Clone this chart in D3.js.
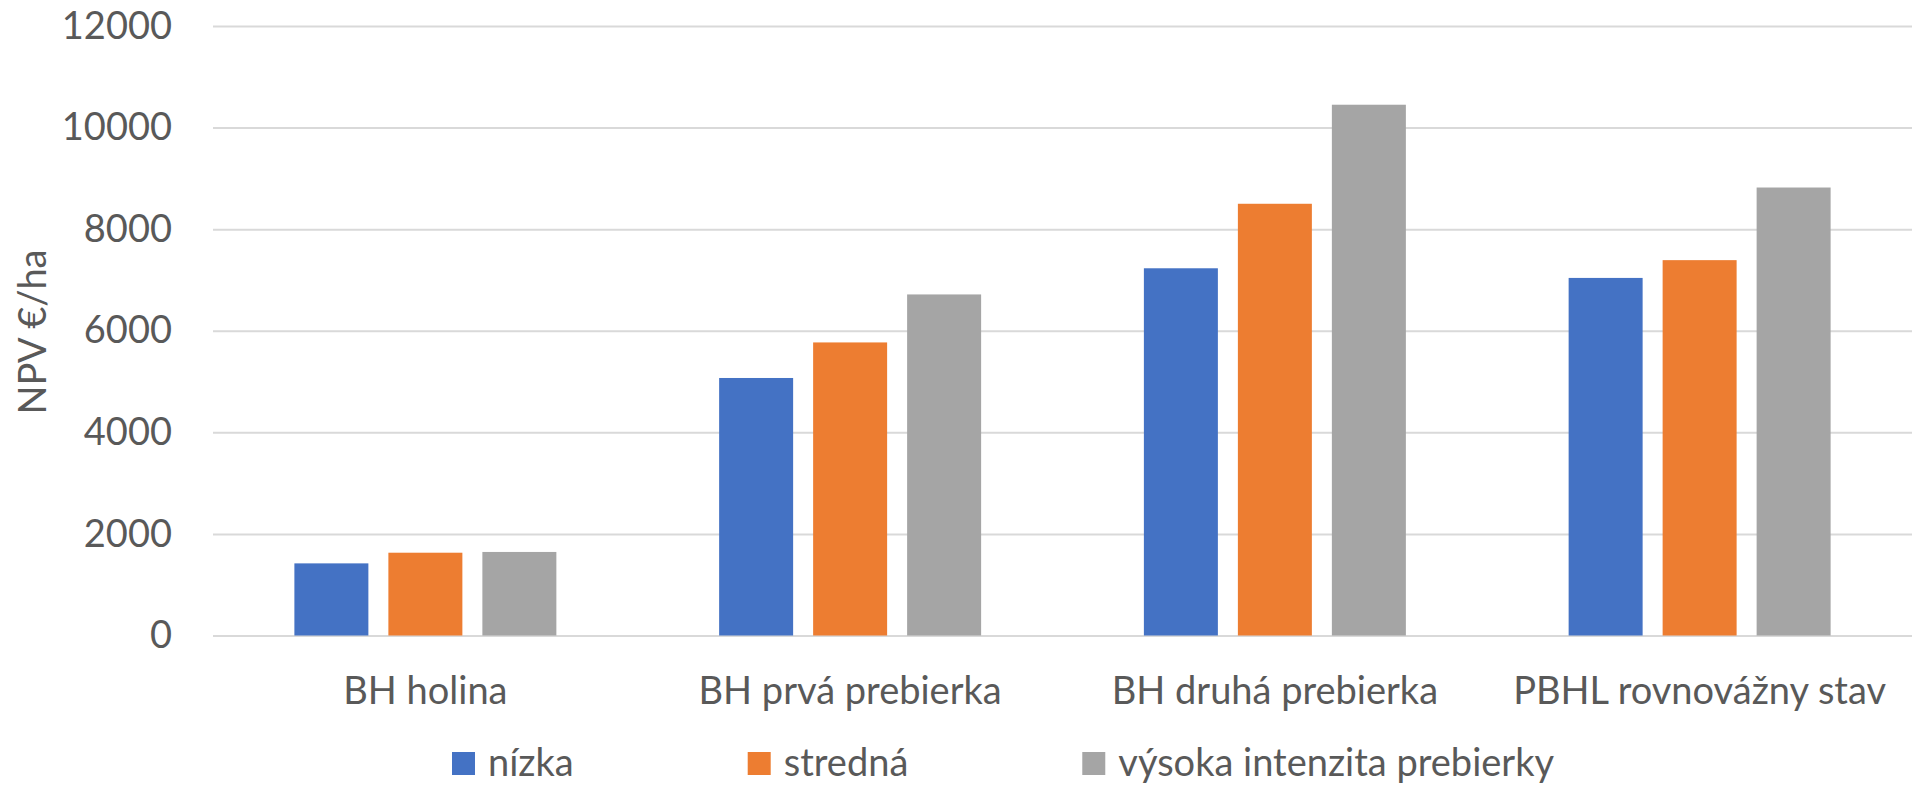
<!DOCTYPE html>
<html>
<head>
<meta charset="utf-8">
<script src="https://cdn.jsdelivr.net/npm/d3@7"></script>
<style>
  html, body { margin: 0; padding: 0; background: #fff; }
  svg text { font-family: "Lato", "Noto Sans", sans-serif; fill: #595959; }
</style>
</head>
<body>
<div id="viz"></div>
<script>

// categories and series
let categories = ["BH holina", "BH prvá prebierka", "BH druhá prebierka", "PBHL rovnovážny stav"];
let seriesNames = ["nízka", "stredná", "výsoka intenzita prebierky"];
let nizka = [1420, 5070, 7230, 7040];
let stredna = [1630, 5770, 8500, 7390];
let vysoka = [1645, 6715, 10450, 8820];
let yTicks = [0, 2000, 4000, 6000, 8000, 10000, 12000];
let colors = ["#4472C4", "#ED7D31", "#A5A5A5"];

let values = [nizka, stredna, vysoka];

//dimensions for the chart
let dimensions = {
    width: 1916,
    height: 785,
    margins: {
        top: 26,
        right: 4,
        bottom: 149.5,
        left: 213
    }
};

dimensions.boundedWidth = dimensions.width - dimensions.margins.left - dimensions.margins.right;
dimensions.boundedHeight = dimensions.height - dimensions.margins.top - dimensions.margins.bottom;

const fontSize = 38;

const viz = d3.select('#viz').append('svg')
    .attr('width', dimensions.width)
    .attr('height', dimensions.height);

const bounds = viz.append('g')
    .attr('transform', `translate(${dimensions.margins.left},${dimensions.margins.top})`);

//scales
const xScale = d3.scaleBand()
    .domain(categories)
    .range([0, dimensions.boundedWidth])
    .paddingInner(0.3832)
    .paddingOuter(0.3832 / 2);

const xInner = d3.scaleBand()
    .domain(seriesNames)
    .range([0, xScale.bandwidth()])
    .paddingInner(20 / 94);

const yScale = d3.scaleLinear()
    .domain([0, 12000])
    .range([dimensions.boundedHeight, 0]);

//y axis with gridlines
const yAxis = bounds.append('g')
    .call(d3.axisLeft(yScale)
        .tickValues(yTicks)
        .tickFormat(d3.format('d'))
        .tickSize(-dimensions.boundedWidth)
        .tickPadding(41));

yAxis.select('.domain').remove();
yAxis.selectAll('.tick line')
    .attr('stroke', '#d9d9d9')
    .attr('stroke-width', 2);
yAxis.selectAll('.tick text')
    .style('font-size', fontSize + 'px')
    .style('font-family', null);

//bars, one group per category
const groups = bounds.selectAll('.group')
    .data(categories)
    .join('g')
        .attr('class', 'group')
        .attr('transform', d => `translate(${xScale(d)},0)`);

groups.selectAll('rect')
    .data((d, i) => seriesNames.map((s, j) => ({ series: s, value: values[j][i], j: j })))
    .join('rect')
        .attr('x', d => xInner(d.series))
        .attr('y', d => yScale(d.value))
        .attr('width', xInner.bandwidth())
        .attr('height', d => yScale(0) - yScale(d.value))
        .attr('fill', d => colors[d.j]);

//x axis labels only
const xAxis = bounds.append('g')
    .attr('transform', `translate(0,${dimensions.boundedHeight})`)
    .call(d3.axisBottom(xScale).tickSize(0).tickPadding(41.5));

xAxis.select('.domain').remove();
xAxis.selectAll('.tick text')
    .style('font-size', fontSize + 'px')
    .style('font-family', null);

//y axis title
viz.append('text')
    .attr('transform', 'translate(46,332) rotate(-90)')
    .attr('text-anchor', 'middle')
    .style('font-size', fontSize + 'px')
    .text('NPV €/ha');

//legend
const legend = viz.append('g')
    .attr('transform', 'translate(452,752)');

let legendX = 0;
seriesNames.forEach((name, i) => {
    const item = legend.append('g')
        .attr('transform', `translate(${legendX},0)`);
    item.append('rect')
        .attr('width', 23)
        .attr('height', 23)
        .attr('fill', colors[i]);
    const label = item.append('text')
        .attr('x', 36)
        .attr('y', 24)
        .style('font-size', fontSize + 'px')
        .text(name);
    legendX += 36 + label.node().getComputedTextLength() + 174;
});

</script>
</body>
</html>
